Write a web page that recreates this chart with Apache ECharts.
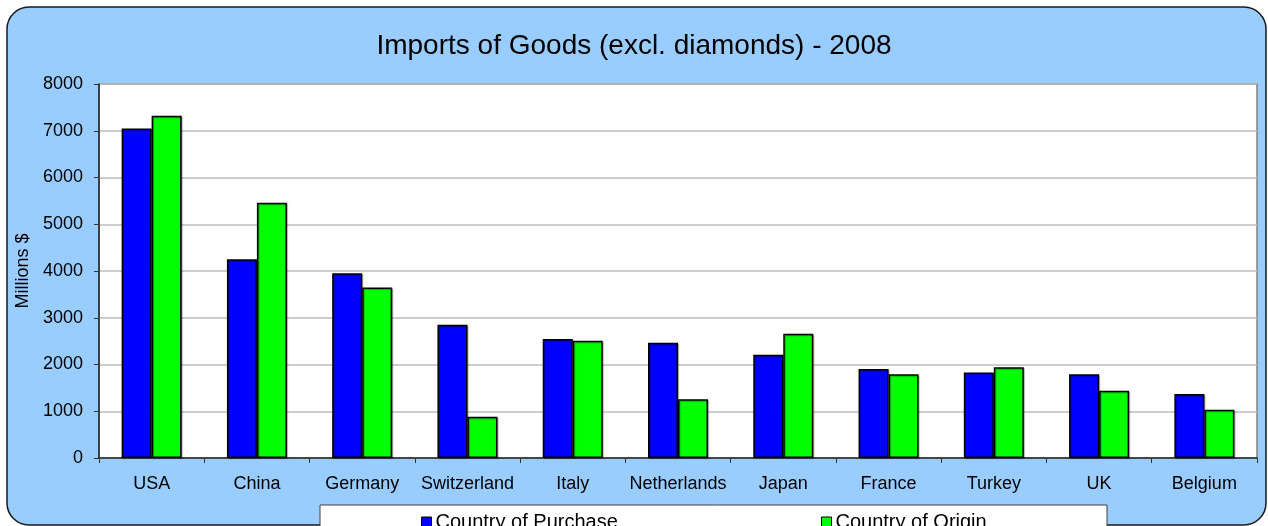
<!DOCTYPE html>
<html>
<head>
<meta charset="utf-8">
<script src="https://cdn.jsdelivr.net/npm/echarts@6/dist/echarts.min.js"></script>
<style>html,body{margin:0;padding:0;background:#fff}#c{width:1268px;height:526px}</style>
</head>
<body>
<div id="c"></div>
<script>
const titleText = 'Imports of Goods (excl. diamonds) - 2008';
const yAxisName = 'Millions $';
const categories = ['USA', 'China', 'Germany', 'Switzerland', 'Italy', 'Netherlands', 'Japan', 'France', 'Turkey', 'UK', 'Belgium'];
const seriesNames = ['Country of Purchase', 'Country of Origin'];
const purchase = [7050, 4250, 3950, 2850, 2545, 2465, 2210, 1905, 1830, 1790, 1370];
const origin = [7320, 5460, 3645, 880, 2510, 1255, 2660, 1790, 1940, 1440, 1030];

const FONT = '"Liberation Sans", Arial, sans-serif';
const chart = echarts.init(document.getElementById('c'), null, {renderer: 'canvas'});

const barStyle = (color) => ({
  color: color,
  borderColor: '#000',
  borderWidth: 1.5,
  shadowColor: 'rgba(0,0,0,0.3)',
  shadowOffsetX: 1,
  shadowOffsetY: 1,
  shadowBlur: 1
});

chart.setOption({
  backgroundColor: '#fff',
  animation: false,
  textStyle: {fontFamily: FONT},
  graphic: [
    {type: 'rect', z: -10, shape: {x: 7, y: 7, width: 1259, height: 518, r: 22},
     style: {fill: '#99CCFF', stroke: '#1a1a1a', lineWidth: 1.5}},
    {type: 'rect', z: 1, shape: {x: 320, y: 505, width: 787, height: 40},
     style: {fill: '#fff', stroke: '#404040', lineWidth: 1}}
  ],
  title: {
    text: titleText,
    left: 'center',
    top: 27,
    textStyle: {fontFamily: FONT, fontSize: 28, fontWeight: 'normal', color: '#000'}
  },
  legend: [
    {data: [seriesNames[0]], left: 416, top: 507, z: 5, icon: 'rect', itemWidth: 10, itemHeight: 10, itemGap: 4,
     itemStyle: {borderColor: '#000', borderWidth: 1},
     textStyle: {fontFamily: FONT, fontSize: 20, color: '#000', padding: [0, 0, 0, -1]}},
    {data: [seriesNames[1]], left: 816, top: 507, z: 5, icon: 'rect', itemWidth: 10, itemHeight: 10, itemGap: 4,
     itemStyle: {borderColor: '#000', borderWidth: 1},
     textStyle: {fontFamily: FONT, fontSize: 20, color: '#000', padding: [0, 0, 0, -1]}}
  ],
  grid: {
    left: 99, top: 84, right: 11, bottom: 68,
    show: true, backgroundColor: '#fff', borderColor: '#808080', borderWidth: 1.5,
    containLabel: false
  },
  xAxis: {
    type: 'category',
    data: categories,
    boundaryGap: true,
    axisLine: {lineStyle: {color: '#222', width: 1.5}},
    axisTick: {show: true, length: 5, inside: false, alignWithLabel: false, lineStyle: {color: '#333', width: 1}},
    axisLabel: {fontFamily: FONT, fontSize: 18, color: '#000', margin: 17, interval: 0}
  },
  yAxis: {
    type: 'value',
    min: 0, max: 8000, interval: 1000,
    name: yAxisName,
    nameLocation: 'middle',
    nameRotate: 90,
    nameGap: 52,
    nameTextStyle: {fontFamily: FONT, fontSize: 18, color: '#000'},
    axisLine: {show: true, lineStyle: {color: '#222', width: 1.5}},
    axisTick: {show: true, length: 5, inside: false, lineStyle: {color: '#333', width: 1}},
    axisLabel: {fontFamily: FONT, fontSize: 18, color: '#000', margin: 16, formatter: (v) => String(v)},
    splitLine: {show: true, lineStyle: {color: '#BDBDBD', width: 1.5}}
  },
  series: [
    {name: seriesNames[0], type: 'bar', data: purchase, barWidth: 30, barGap: '0%', itemStyle: barStyle('#0000FF')},
    {name: seriesNames[1], type: 'bar', data: origin, barWidth: 30, barGap: '0%', itemStyle: barStyle('#00FF00')}
  ]
});
</script>
</body>
</html>
